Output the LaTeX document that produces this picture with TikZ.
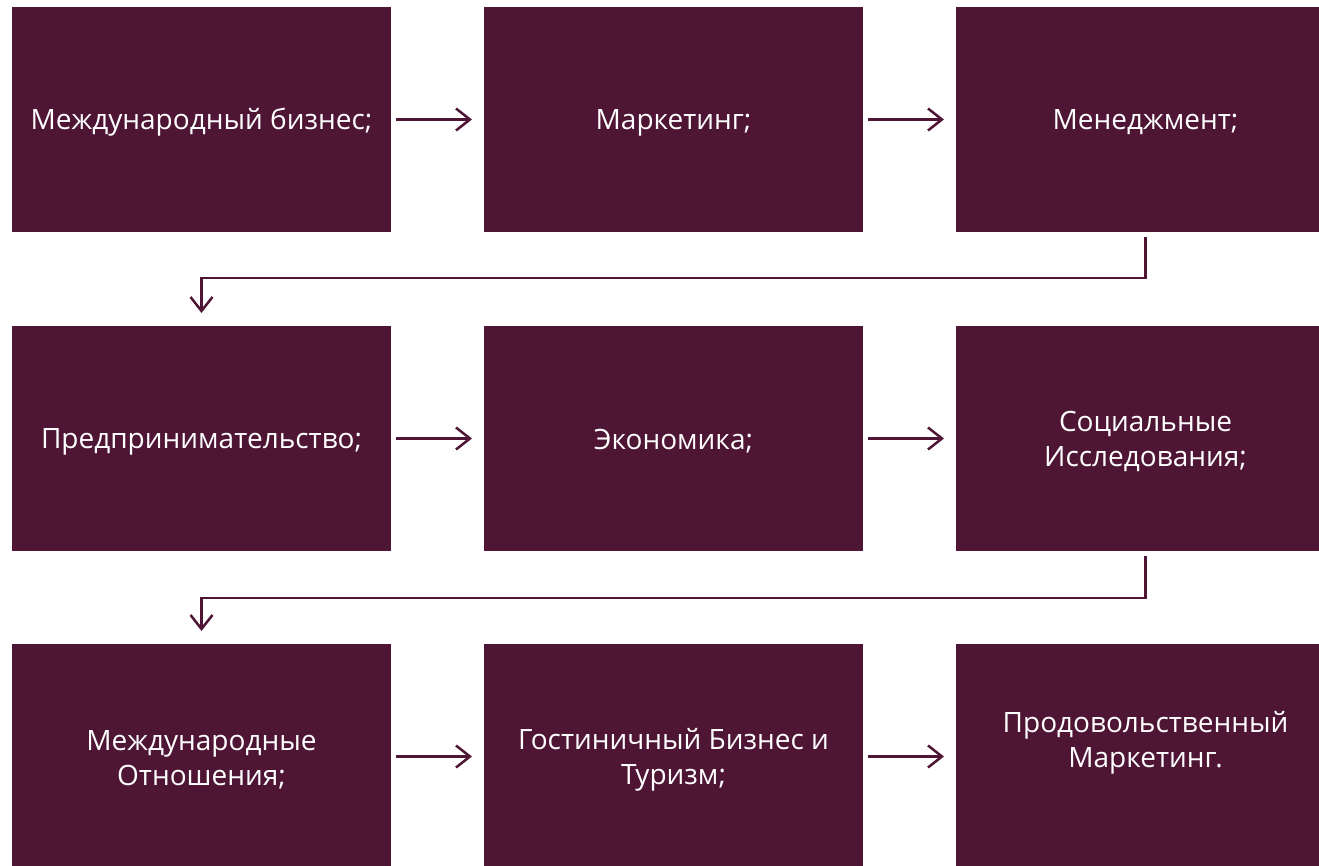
\documentclass[tikz,border=0pt]{standalone}
\usepackage{fontspec}
\setmainfont{Open Sans}
\usetikzlibrary{arrows.meta}
\definecolor{maroon}{RGB}{78,21,52}
\tikzset{
  x=1pt, y=-1pt,
  box/.style={fill=maroon, draw=none, minimum width=379pt, minimum height=225pt, inner sep=0pt, outer sep=0pt},
  lbl/.style={text=white, align=center, font=\fontsize{28}{35}\selectfont, inner sep=0pt},
  conn/.style={draw=maroon, line width=2.5pt, -{Straight Barb[length=14pt,width=22pt,line width=2.5pt]}}
}
\begin{document}
\begin{tikzpicture}
\useasboundingbox (0,0) rectangle (1319,866);
\clip (0,0) rectangle (1319,866);
% boxes
\node[box] (b1) at (201.5,119.5) {};
\node[box] (b2) at (673.5,119.5) {};
\node[box] (b3) at (1145.5,119.5) {};
\node[box] (b4) at (201.5,438.5) {};
\node[box] (b5) at (673.5,438.5) {};
\node[box] (b6) at (1145.5,438.5) {};
\node[box] (b7) at (201.5,756.5) {};
\node[box] (b8) at (673.5,756.5) {};
\node[box] (b9) at (1145.5,756.5) {};
% labels
\node[lbl] (t1) at ([yshift=-3pt]b1) {Международный бизнес;};
\node[lbl] (t2) at ([yshift=-3pt]b2) {Маркетинг;};
\node[lbl] (t3) at ([yshift=-3pt]b3) {Менеджмент;};
\node[lbl] (t4) at ([yshift=-3pt]b4) {Предпринимательство;};
\node[lbl] (t5) at ([yshift=-3pt]b5) {Экономика;};
\node[lbl] (t6) at ([yshift=-3pt]b6) {Социальные\\Исследования;};
\node[lbl] (t7) at ([yshift=-3pt]b7) {Международные\\Отношения;};
\node[lbl] (t8) at ([yshift=-3pt]b8) {Гостиничный Бизнес и\\Туризм;};
\node[lbl] (t9) at ([yshift=14pt]b9) {Продовольственный\\Маркетинг.};
% horizontal arrows
\foreach \a/\b in {b1/b2,b2/b3,b4/b5,b5/b6,b7/b8,b8/b9}{
  \draw[conn] ([xshift=5pt]\a.east) -- ([xshift=-12pt]\b.west);
}
% turn connectors
\coordinate (c1) at ([yshift=-5pt]b3.south);
\coordinate (c2) at ([yshift=13pt]b4.north);
\draw[conn] (c1) -- ++(0,41) -| (c2);
\coordinate (c3) at ([yshift=-5pt]b6.south);
\coordinate (c4) at ([yshift=13pt]b7.north);
\draw[conn] (c3) -- ++(0,42) -| (c4);
\end{tikzpicture}
\end{document}
